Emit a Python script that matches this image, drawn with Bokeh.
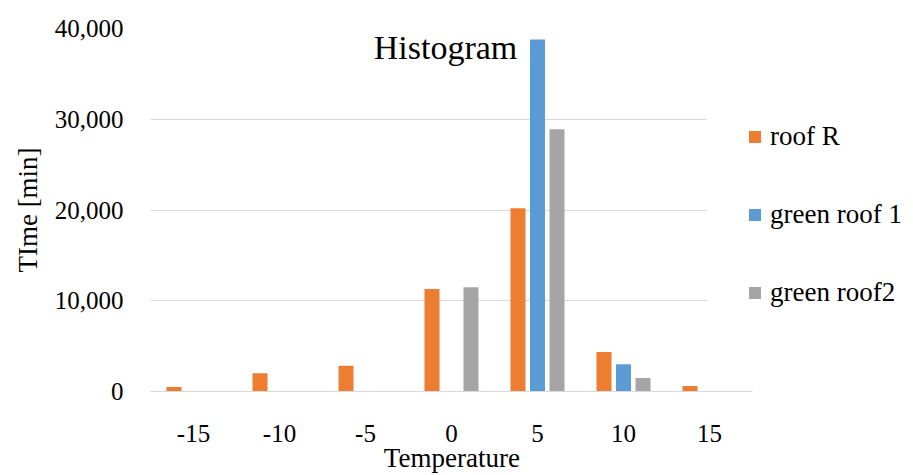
from bokeh.plotting import figure
from bokeh.models import (Range1d, ColumnDataSource, Legend, LegendItem, Label, FixedTicker,
                          NumeralTickFormatter, BoxAnnotation, Grid)
from bokeh.transform import dodge
from bokeh.embed import file_html
from bokeh.resources import INLINE

temps = [-15, -10, -5, 0, 5, 10, 15]
temp_labels = ["-15", "-10", "-5", "0", "5", "10", "15"]
roof_r = [500, 2000, 2850, 11300, 20200, 4350, 600]
green_roof_1 = [0, 0, 0, 0, 38800, 3000, 0]
green_roof_2 = [0, 0, 0, 11500, 28900, 1500, 0]
series_names = ["roof R", "green roof 1", "green roof2"]
colors = ["#ED7D31", "#5B9BD5", "#A5A5A5"]
y_ticks = [0, 10000, 20000, 30000, 40000]

FONT = "Liberation Serif"

src = ColumnDataSource(dict(t=temps, r=roof_r, g1=green_roof_1, g2=green_roof_2))

# plot area: categories occupy x=-17.5..17.5, the rest of the frame holds the legend
p = figure(width=913, height=475, x_range=Range1d(-17.5, 26.57), y_range=Range1d(0, 40000),
           output_backend="svg", toolbar_location=None,
           min_border_left=150, min_border_right=5, min_border_top=28, min_border_bottom=81)

bw = 0.872
off = 1.134
r1 = p.vbar(x=dodge("t", -off), top="r", width=bw, source=src, fill_color=colors[0], line_color=None)
r2 = p.vbar(x=dodge("t", 0), top="g1", width=bw, source=src, fill_color=colors[1], line_color=None)
r3 = p.vbar(x=dodge("t", off), top="g2", width=bw, source=src, fill_color=colors[2], line_color=None)

p.outline_line_color = None
p.xgrid.grid_line_color = None
p.ygrid.grid_line_color = "#D9D9D9"
p.ygrid.grid_line_width = 1
if "cross_bounds" in Grid.properties():
    p.ygrid.cross_bounds = (-17.5, 17.5)
else:
    p.ygrid.grid_line_color = None
    p.segment(x0=-17.5, x1=17.5, y0=y_ticks, y1=y_ticks, line_color="#D9D9D9", line_width=1, level="underlay")

p.yaxis.ticker = FixedTicker(ticks=y_ticks)
p.yaxis.formatter = NumeralTickFormatter(format="0,0")
p.yaxis.axis_line_color = None
p.yaxis.major_tick_line_color = None
p.yaxis.minor_tick_line_color = None
p.yaxis.major_label_standoff = 21
p.yaxis.axis_label = "TIme [min]"
p.yaxis.axis_label_standoff = 9

p.xaxis.ticker = FixedTicker(ticks=temps)
p.xaxis.major_label_overrides = {t: lab for t, lab in zip(temps, temp_labels)}
p.xaxis.bounds = (-17.5, 17.5)
p.xaxis.axis_line_color = "#D9D9D9"
p.xaxis.major_tick_line_color = None
p.xaxis.minor_tick_line_color = None
p.xaxis.major_label_standoff = 27
# trailing no-break spaces keep the label centred under the bars rather than the whole frame
p.xaxis.axis_label = "Temperature" + "\u00a0" * 23
p.xaxis.axis_label_standoff = -2

for ax in (p.xaxis, p.yaxis):
    ax.major_label_text_font = FONT
    ax.major_label_text_font_size = "25px"
    ax.major_label_text_color = "#000000"
    ax.axis_label_text_font = FONT
    ax.axis_label_text_font_size = "27px"
    ax.axis_label_text_font_style = "normal"
    ax.axis_label_text_color = "#000000"

# white legend backdrop over the right end of the plot area (as in the reference)
p.add_layout(BoxAnnotation(left=556, right=760, bottom=64, top=294,
                           left_units="screen", right_units="screen",
                           bottom_units="screen", top_units="screen",
                           fill_color="white", fill_alpha=1.0, line_color=None))

legend = Legend(items=[LegendItem(label=series_names[0], renderers=[r1]),
                       LegendItem(label=series_names[1], renderers=[r2]),
                       LegendItem(label=series_names[2], renderers=[r3])],
                location=(597, 83), orientation="vertical",
                glyph_width=15, glyph_height=15, label_standoff=8,
                label_text_font=FONT, label_text_font_size="27px", label_text_color="#000000",
                spacing=47, padding=20, margin=0,
                background_fill_color="white", background_fill_alpha=1.0, border_line_color=None)
p.add_layout(legend, "center")

title = Label(x=295, y=344, x_units="screen", y_units="screen", text="Histogram",
              text_font=FONT, text_font_size="34px", text_color="#000000",
              text_align="center", text_baseline="middle")
p.add_layout(title)

open("out.html", "w").write(file_html(p, INLINE))
